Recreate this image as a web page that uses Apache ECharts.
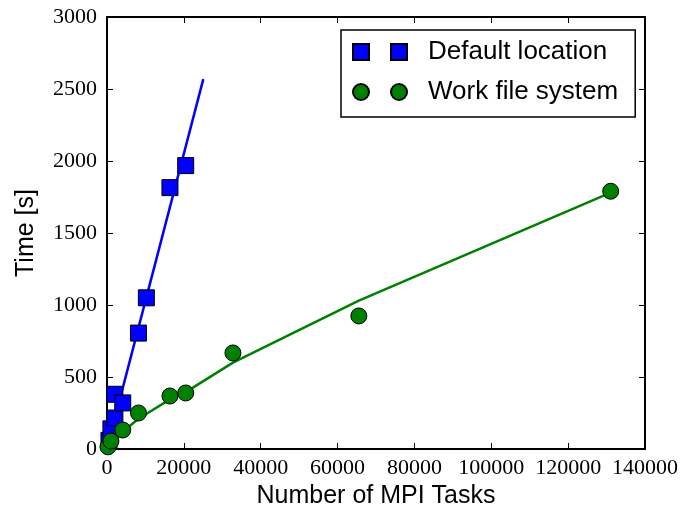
<!DOCTYPE html>
<html>
<head>
<meta charset="utf-8">
<script src="https://cdn.jsdelivr.net/npm/echarts@6/dist/echarts.min.js"></script>
<style>
    html, body { margin: 0; padding: 0; background: #fff; }
    #main { width: 693px; height: 508px; }
</style>
</head>
<body>
<div id="main"></div>
<script>
    // measured points [tasks, seconds]
    var defaultLocation = [
        [512, 60], [1024, 140], [2048, 215], [2048, 380], [4096, 320],
        [8192, 805], [10240, 1050], [16384, 1815], [20480, 1968]
    ];
    var workFileSystem = [
        [256, 15], [1024, 55], [4096, 132], [8192, 250], [16384, 368],
        [20480, 389], [32768, 667], [65536, 924], [131072, 1790]
    ];
    // fitted curves as drawn
    var defaultFit = [[256, 30], [25060, 2569]];
    var workFit = [
        [256, 12], [1024, 40], [4096, 120], [8192, 210], [16384, 345],
        [20480, 395], [32768, 600], [65536, 1030], [131072, 1780]
    ];
    var xTicks = { min: 0, max: 140000, interval: 20000 };
    var yTicks = { min: 0, max: 3000, interval: 500 };

    var serif = "'Liberation Serif', 'DejaVu Serif', serif";
    var sans = "'Liberation Sans', Arial, sans-serif";

    var tick = { show: true, inside: true, length: 6, lineStyle: { color: '#000', width: 1 } };
    var frame = { show: true, onZero: false, lineStyle: { color: '#000', width: 2 } };
    var plain = function(v) { return String(v); };

    var chart = echarts.init(document.getElementById('main'), null, { renderer: 'canvas' });

    chart.setOption({
        backgroundColor: '#fff',
        animation: false,
        grid: { left: 107, right: 48, top: 17, bottom: 59, containLabel: false, outerBoundsMode: 'none' },
        legend: {
            orient: 'vertical',
            left: 341,
            top: 30,
            padding: [9, 17, 12, 11],
            itemGap: 14,
            itemWidth: 54,
            itemHeight: 16,
            borderColor: '#000',
            borderWidth: 1.5,
            backgroundColor: '#fff',
            textStyle: { fontFamily: sans, fontSize: 26, color: '#000', padding: [0, 0, 0, 16] },
            data: [
                { name: 'Default location', icon: 'path://M0,0H16V16H0Z M38,0H54V16H38Z' },
                { name: 'Work file system', icon: 'path://M8,0A8,8,0,1,1,8,16A8,8,0,1,1,8,0Z M46,0A8,8,0,1,1,46,16A8,8,0,1,1,46,0Z' }
            ]
        },
        xAxis: [{
            type: 'value',
            min: xTicks.min, max: xTicks.max, interval: xTicks.interval,
            position: 'bottom',
            name: 'Number of MPI Tasks',
            nameLocation: 'middle',
            nameGap: 33,
            nameTextStyle: { fontFamily: sans, fontSize: 25, color: '#000' },
            axisLine: frame,
            axisTick: tick,
            axisLabel: { fontFamily: serif, fontSize: 22, color: '#000', margin: 8, formatter: plain },
            splitLine: { show: false }
        }, {
            type: 'value',
            min: xTicks.min, max: xTicks.max, interval: xTicks.interval,
            position: 'top',
            axisLine: frame,
            axisTick: tick,
            axisLabel: { show: false },
            splitLine: { show: false }
        }],
        yAxis: [{
            type: 'value',
            min: yTicks.min, max: yTicks.max, interval: yTicks.interval,
            position: 'left',
            name: 'Time [s]',
            nameLocation: 'middle',
            nameGap: 68,
            nameTextStyle: { fontFamily: sans, fontSize: 25, color: '#000' },
            axisLine: frame,
            axisTick: tick,
            axisLabel: { fontFamily: serif, fontSize: 22, color: '#000', margin: 10, formatter: plain },
            splitLine: { show: false }
        }, {
            type: 'value',
            min: yTicks.min, max: yTicks.max, interval: yTicks.interval,
            position: 'right',
            axisLine: frame,
            axisTick: tick,
            axisLabel: { show: false },
            splitLine: { show: false }
        }],
        series: [{
            name: 'default fit',
            type: 'line',
            data: defaultFit,
            showSymbol: false,
            lineStyle: { color: '#0000ff', width: 2.5 },
            z: 2
        }, {
            name: 'Default location',
            type: 'scatter',
            data: defaultLocation,
            symbol: 'rect',
            symbolSize: 16,
            itemStyle: { color: '#0000ff', borderColor: '#000', borderWidth: 1, opacity: 1 },
            z: 3
        }, {
            name: 'work fit',
            type: 'line',
            data: workFit,
            showSymbol: false,
            lineStyle: { color: '#008000', width: 2.5 },
            z: 4
        }, {
            name: 'Work file system',
            type: 'scatter',
            data: workFileSystem,
            symbol: 'circle',
            symbolSize: 16,
            itemStyle: { color: '#008000', borderColor: '#000', borderWidth: 1, opacity: 1 },
            z: 5
        }]
    });
</script>
</body>
</html>
